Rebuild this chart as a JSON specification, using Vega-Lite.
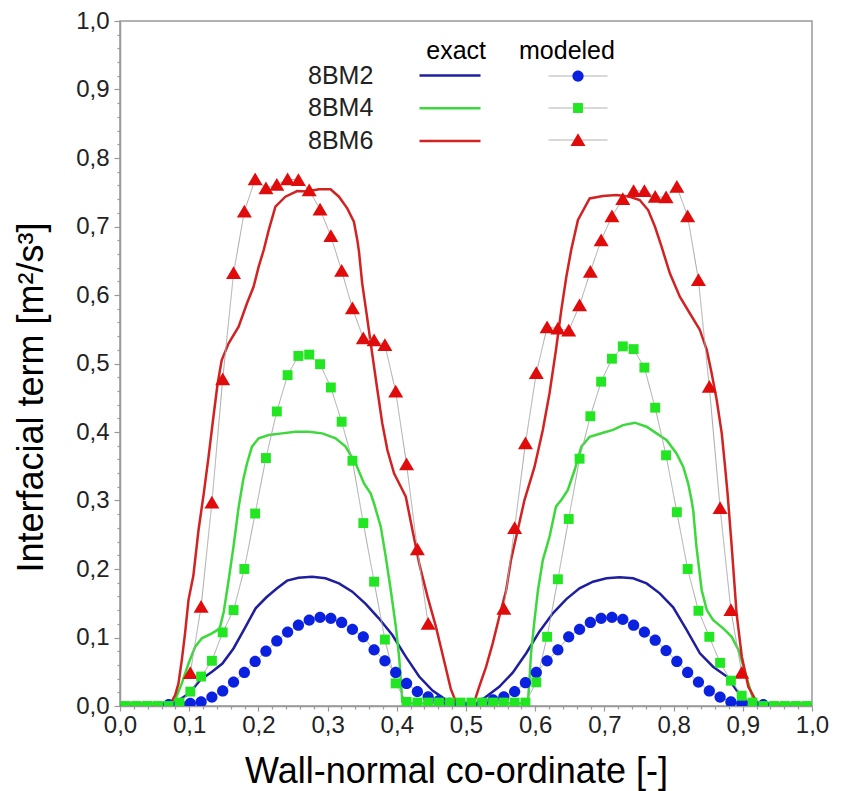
{
  "$schema": "https://vega.github.io/schema/vega-lite/v6.json",
  "width": 692,
  "height": 685,
  "autosize": "none",
  "padding": {"left": 120, "top": 21, "right": 31, "bottom": 85},
  "background": "white",
  "config": {
    "font": "Liberation Sans",
    "view": {"stroke": "#999999", "strokeWidth": 1.5},
    "locale": {"number": {"decimal": ",", "thousands": ".", "grouping": [3], "currency": ["", " €"]}},
    "axis": {"grid": false, "domainColor": "#999999", "domainWidth": 1.5, "tickColor": "#999999", "tickWidth": 1.2, "labelFont": "Liberation Sans", "labelFontSize": 24, "labelColor": "#222222", "titleFont": "Liberation Sans", "titleColor": "#000000", "titleFontWeight": "normal"},
    "legend": {"labelFont": "Liberation Sans", "titleFont": "Liberation Sans", "padding": 0}
  },
  "datasets": {
    "exact": [
      {"series": "8BM2", "x": 0.0, "y": 0.0},
      {"series": "8BM2", "x": 0.065, "y": 0.0},
      {"series": "8BM2", "x": 0.08, "y": 0.005},
      {"series": "8BM2", "x": 0.1, "y": 0.0185},
      {"series": "8BM2", "x": 0.116, "y": 0.038},
      {"series": "8BM2", "x": 0.133, "y": 0.05},
      {"series": "8BM2", "x": 0.148, "y": 0.062},
      {"series": "8BM2", "x": 0.164, "y": 0.084},
      {"series": "8BM2", "x": 0.18, "y": 0.113},
      {"series": "8BM2", "x": 0.196, "y": 0.1426},
      {"series": "8BM2", "x": 0.2116, "y": 0.1587},
      {"series": "8BM2", "x": 0.227, "y": 0.1718},
      {"series": "8BM2", "x": 0.2415, "y": 0.183},
      {"series": "8BM2", "x": 0.258, "y": 0.1873},
      {"series": "8BM2", "x": 0.2777, "y": 0.1888},
      {"series": "8BM2", "x": 0.297, "y": 0.1864},
      {"series": "8BM2", "x": 0.3164, "y": 0.179},
      {"series": "8BM2", "x": 0.3357, "y": 0.1669},
      {"series": "8BM2", "x": 0.355, "y": 0.149},
      {"series": "8BM2", "x": 0.374, "y": 0.128},
      {"series": "8BM2", "x": 0.3936, "y": 0.1036},
      {"series": "8BM2", "x": 0.413, "y": 0.072},
      {"series": "8BM2", "x": 0.4323, "y": 0.043},
      {"series": "8BM2", "x": 0.4516, "y": 0.0224},
      {"series": "8BM2", "x": 0.471, "y": 0.009},
      {"series": "8BM2", "x": 0.49, "y": 0.0015},
      {"series": "8BM2", "x": 0.5, "y": 0.0},
      {"series": "8BM2", "x": 0.51, "y": 0.001},
      {"series": "8BM2", "x": 0.519, "y": 0.006},
      {"series": "8BM2", "x": 0.529, "y": 0.0136},
      {"series": "8BM2", "x": 0.548, "y": 0.028},
      {"series": "8BM2", "x": 0.5675, "y": 0.0486},
      {"series": "8BM2", "x": 0.587, "y": 0.077},
      {"series": "8BM2", "x": 0.606, "y": 0.1085},
      {"series": "8BM2", "x": 0.6255, "y": 0.1353},
      {"series": "8BM2", "x": 0.645, "y": 0.156},
      {"series": "8BM2", "x": 0.664, "y": 0.1718},
      {"series": "8BM2", "x": 0.6835, "y": 0.1815},
      {"series": "8BM2", "x": 0.703, "y": 0.1864},
      {"series": "8BM2", "x": 0.722, "y": 0.1879},
      {"series": "8BM2", "x": 0.7415, "y": 0.1864},
      {"series": "8BM2", "x": 0.761, "y": 0.179},
      {"series": "8BM2", "x": 0.78, "y": 0.1645},
      {"series": "8BM2", "x": 0.7994, "y": 0.144},
      {"series": "8BM2", "x": 0.8188, "y": 0.111},
      {"series": "8BM2", "x": 0.838, "y": 0.077},
      {"series": "8BM2", "x": 0.857, "y": 0.0574},
      {"series": "8BM2", "x": 0.877, "y": 0.043},
      {"series": "8BM2", "x": 0.891, "y": 0.023},
      {"series": "8BM2", "x": 0.906, "y": 0.006},
      {"series": "8BM2", "x": 0.925, "y": 0.0},
      {"series": "8BM2", "x": 1.0, "y": 0.0},
      {"series": "8BM4", "x": 0.0, "y": 0.004},
      {"series": "8BM4", "x": 0.077, "y": 0.005},
      {"series": "8BM4", "x": 0.0797, "y": 0.009},
      {"series": "8BM4", "x": 0.0893, "y": 0.033},
      {"series": "8BM4", "x": 0.099, "y": 0.062},
      {"series": "8BM4", "x": 0.1087, "y": 0.0866},
      {"series": "8BM4", "x": 0.1183, "y": 0.0988},
      {"series": "8BM4", "x": 0.1328, "y": 0.106},
      {"series": "8BM4", "x": 0.144, "y": 0.113},
      {"series": "8BM4", "x": 0.15, "y": 0.138},
      {"series": "8BM4", "x": 0.157, "y": 0.184},
      {"series": "8BM4", "x": 0.164, "y": 0.2326},
      {"series": "8BM4", "x": 0.1714, "y": 0.29},
      {"series": "8BM4", "x": 0.178, "y": 0.33},
      {"series": "8BM4", "x": 0.1835, "y": 0.354},
      {"series": "8BM4", "x": 0.1907, "y": 0.3786},
      {"series": "8BM4", "x": 0.2004, "y": 0.3908},
      {"series": "8BM4", "x": 0.215, "y": 0.3956},
      {"series": "8BM4", "x": 0.234, "y": 0.398},
      {"series": "8BM4", "x": 0.2536, "y": 0.4004},
      {"series": "8BM4", "x": 0.273, "y": 0.4004},
      {"series": "8BM4", "x": 0.2922, "y": 0.398},
      {"series": "8BM4", "x": 0.3116, "y": 0.3908},
      {"series": "8BM4", "x": 0.326, "y": 0.3786},
      {"series": "8BM4", "x": 0.3406, "y": 0.354},
      {"series": "8BM4", "x": 0.3526, "y": 0.325},
      {"series": "8BM4", "x": 0.3623, "y": 0.31},
      {"series": "8BM4", "x": 0.367, "y": 0.296},
      {"series": "8BM4", "x": 0.3768, "y": 0.2618},
      {"series": "8BM4", "x": 0.384, "y": 0.218},
      {"series": "8BM4", "x": 0.3913, "y": 0.169},
      {"series": "8BM4", "x": 0.3986, "y": 0.1158},
      {"series": "8BM4", "x": 0.4033, "y": 0.072},
      {"series": "8BM4", "x": 0.4058, "y": 0.038},
      {"series": "8BM4", "x": 0.408, "y": 0.006},
      {"series": "8BM4", "x": 0.412, "y": 0.004},
      {"series": "8BM4", "x": 0.588, "y": 0.004},
      {"series": "8BM4", "x": 0.5895, "y": 0.006},
      {"series": "8BM4", "x": 0.5917, "y": 0.038},
      {"series": "8BM4", "x": 0.594, "y": 0.077},
      {"series": "8BM4", "x": 0.599, "y": 0.1255},
      {"series": "8BM4", "x": 0.604, "y": 0.169},
      {"series": "8BM4", "x": 0.611, "y": 0.213},
      {"series": "8BM4", "x": 0.6207, "y": 0.247},
      {"series": "8BM4", "x": 0.63, "y": 0.291},
      {"series": "8BM4", "x": 0.6377, "y": 0.3007},
      {"series": "8BM4", "x": 0.647, "y": 0.315},
      {"series": "8BM4", "x": 0.657, "y": 0.3445},
      {"series": "8BM4", "x": 0.6667, "y": 0.3786},
      {"series": "8BM4", "x": 0.6787, "y": 0.393},
      {"series": "8BM4", "x": 0.698, "y": 0.399},
      {"series": "8BM4", "x": 0.7125, "y": 0.403},
      {"series": "8BM4", "x": 0.727, "y": 0.41},
      {"series": "8BM4", "x": 0.744, "y": 0.4136},
      {"series": "8BM4", "x": 0.761, "y": 0.4077},
      {"series": "8BM4", "x": 0.7754, "y": 0.398},
      {"series": "8BM4", "x": 0.79, "y": 0.388},
      {"series": "8BM4", "x": 0.804, "y": 0.369},
      {"series": "8BM4", "x": 0.814, "y": 0.349},
      {"series": "8BM4", "x": 0.821, "y": 0.325},
      {"series": "8BM4", "x": 0.826, "y": 0.3},
      {"series": "8BM4", "x": 0.8284, "y": 0.285},
      {"series": "8BM4", "x": 0.833, "y": 0.2326},
      {"series": "8BM4", "x": 0.8406, "y": 0.169},
      {"series": "8BM4", "x": 0.848, "y": 0.14},
      {"series": "8BM4", "x": 0.857, "y": 0.1255},
      {"series": "8BM4", "x": 0.872, "y": 0.113},
      {"series": "8BM4", "x": 0.884, "y": 0.101},
      {"series": "8BM4", "x": 0.8937, "y": 0.082},
      {"series": "8BM4", "x": 0.901, "y": 0.0574},
      {"series": "8BM4", "x": 0.908, "y": 0.033},
      {"series": "8BM4", "x": 0.9154, "y": 0.009},
      {"series": "8BM4", "x": 0.92, "y": 0.004},
      {"series": "8BM4", "x": 1.0, "y": 0.004},
      {"series": "8BM6", "x": 0.0, "y": 0.0},
      {"series": "8BM6", "x": 0.066, "y": 0.0},
      {"series": "8BM6", "x": 0.0745, "y": 0.006},
      {"series": "8BM6", "x": 0.0797, "y": 0.016},
      {"series": "8BM6", "x": 0.0845, "y": 0.033},
      {"series": "8BM6", "x": 0.0893, "y": 0.067},
      {"series": "8BM6", "x": 0.094, "y": 0.106},
      {"series": "8BM6", "x": 0.099, "y": 0.155},
      {"series": "8BM6", "x": 0.106, "y": 0.19},
      {"series": "8BM6", "x": 0.1135, "y": 0.257},
      {"series": "8BM6", "x": 0.121, "y": 0.31},
      {"series": "8BM6", "x": 0.128, "y": 0.364},
      {"series": "8BM6", "x": 0.135, "y": 0.4223},
      {"series": "8BM6", "x": 0.141, "y": 0.47},
      {"series": "8BM6", "x": 0.147, "y": 0.505},
      {"series": "8BM6", "x": 0.157, "y": 0.5295},
      {"series": "8BM6", "x": 0.1714, "y": 0.5537},
      {"series": "8BM6", "x": 0.1835, "y": 0.588},
      {"series": "8BM6", "x": 0.193, "y": 0.612},
      {"series": "8BM6", "x": 0.2004, "y": 0.6413},
      {"series": "8BM6", "x": 0.2077, "y": 0.6657},
      {"series": "8BM6", "x": 0.215, "y": 0.695},
      {"series": "8BM6", "x": 0.2246, "y": 0.729},
      {"series": "8BM6", "x": 0.239, "y": 0.7435},
      {"series": "8BM6", "x": 0.256, "y": 0.7518},
      {"series": "8BM6", "x": 0.2705, "y": 0.751},
      {"series": "8BM6", "x": 0.2874, "y": 0.7543},
      {"series": "8BM6", "x": 0.3043, "y": 0.7543},
      {"series": "8BM6", "x": 0.3164, "y": 0.7435},
      {"series": "8BM6", "x": 0.3284, "y": 0.7265},
      {"series": "8BM6", "x": 0.338, "y": 0.707},
      {"series": "8BM6", "x": 0.343, "y": 0.68},
      {"series": "8BM6", "x": 0.3454, "y": 0.663},
      {"series": "8BM6", "x": 0.35, "y": 0.617},
      {"series": "8BM6", "x": 0.357, "y": 0.568},
      {"series": "8BM6", "x": 0.3623, "y": 0.5295},
      {"series": "8BM6", "x": 0.372, "y": 0.461},
      {"series": "8BM6", "x": 0.379, "y": 0.4127},
      {"series": "8BM6", "x": 0.3864, "y": 0.3737},
      {"series": "8BM6", "x": 0.396, "y": 0.3397},
      {"series": "8BM6", "x": 0.4058, "y": 0.32},
      {"series": "8BM6", "x": 0.413, "y": 0.3056},
      {"series": "8BM6", "x": 0.4226, "y": 0.257},
      {"series": "8BM6", "x": 0.4323, "y": 0.2083},
      {"series": "8BM6", "x": 0.4444, "y": 0.1596},
      {"series": "8BM6", "x": 0.4565, "y": 0.1158},
      {"series": "8BM6", "x": 0.4686, "y": 0.065},
      {"series": "8BM6", "x": 0.478, "y": 0.025},
      {"series": "8BM6", "x": 0.487, "y": 0.002},
      {"series": "8BM6", "x": 0.508, "y": 0.002},
      {"series": "8BM6", "x": 0.512, "y": 0.006},
      {"series": "8BM6", "x": 0.519, "y": 0.028},
      {"series": "8BM6", "x": 0.529, "y": 0.057},
      {"series": "8BM6", "x": 0.5386, "y": 0.0915},
      {"series": "8BM6", "x": 0.548, "y": 0.13},
      {"series": "8BM6", "x": 0.558, "y": 0.169},
      {"series": "8BM6", "x": 0.565, "y": 0.213},
      {"series": "8BM6", "x": 0.575, "y": 0.258},
      {"series": "8BM6", "x": 0.5845, "y": 0.3007},
      {"series": "8BM6", "x": 0.599, "y": 0.349},
      {"series": "8BM6", "x": 0.611, "y": 0.403},
      {"series": "8BM6", "x": 0.6207, "y": 0.4565},
      {"series": "8BM6", "x": 0.63, "y": 0.5197},
      {"series": "8BM6", "x": 0.6377, "y": 0.578},
      {"series": "8BM6", "x": 0.645, "y": 0.6267},
      {"series": "8BM6", "x": 0.652, "y": 0.6657},
      {"series": "8BM6", "x": 0.6618, "y": 0.7095},
      {"series": "8BM6", "x": 0.6787, "y": 0.741},
      {"series": "8BM6", "x": 0.698, "y": 0.7445},
      {"series": "8BM6", "x": 0.7174, "y": 0.746},
      {"series": "8BM6", "x": 0.7367, "y": 0.7435},
      {"series": "8BM6", "x": 0.751, "y": 0.7387},
      {"series": "8BM6", "x": 0.7632, "y": 0.724},
      {"series": "8BM6", "x": 0.773, "y": 0.7},
      {"series": "8BM6", "x": 0.7826, "y": 0.6705},
      {"series": "8BM6", "x": 0.7946, "y": 0.6317},
      {"series": "8BM6", "x": 0.809, "y": 0.5975},
      {"series": "8BM6", "x": 0.8236, "y": 0.573},
      {"series": "8BM6", "x": 0.838, "y": 0.549},
      {"series": "8BM6", "x": 0.848, "y": 0.5197},
      {"series": "8BM6", "x": 0.855, "y": 0.4857},
      {"series": "8BM6", "x": 0.8623, "y": 0.4467},
      {"series": "8BM6", "x": 0.8696, "y": 0.398},
      {"series": "8BM6", "x": 0.8744, "y": 0.349},
      {"series": "8BM6", "x": 0.878, "y": 0.31},
      {"series": "8BM6", "x": 0.884, "y": 0.2326},
      {"series": "8BM6", "x": 0.891, "y": 0.1353},
      {"series": "8BM6", "x": 0.8986, "y": 0.072},
      {"series": "8BM6", "x": 0.908, "y": 0.028},
      {"series": "8BM6", "x": 0.92, "y": 0.006},
      {"series": "8BM6", "x": 0.93, "y": 0.0},
      {"series": "8BM6", "x": 1.0, "y": 0.0}
    ],
    "modeled": [
      {"series": "8BM2", "branch": "a", "x": 0.0703, "y": 0.002},
      {"series": "8BM2", "branch": "a", "x": 0.0859, "y": 0.003},
      {"series": "8BM2", "branch": "a", "x": 0.1016, "y": 0.004},
      {"series": "8BM2", "branch": "a", "x": 0.1172, "y": 0.006},
      {"series": "8BM2", "branch": "a", "x": 0.1328, "y": 0.013},
      {"series": "8BM2", "branch": "a", "x": 0.1484, "y": 0.022},
      {"series": "8BM2", "branch": "a", "x": 0.1641, "y": 0.035},
      {"series": "8BM2", "branch": "a", "x": 0.1797, "y": 0.049},
      {"series": "8BM2", "branch": "a", "x": 0.1953, "y": 0.065},
      {"series": "8BM2", "branch": "a", "x": 0.2109, "y": 0.08},
      {"series": "8BM2", "branch": "a", "x": 0.2266, "y": 0.095},
      {"series": "8BM2", "branch": "a", "x": 0.2422, "y": 0.108},
      {"series": "8BM2", "branch": "a", "x": 0.2578, "y": 0.118},
      {"series": "8BM2", "branch": "a", "x": 0.2734, "y": 0.1255},
      {"series": "8BM2", "branch": "a", "x": 0.2891, "y": 0.1295},
      {"series": "8BM2", "branch": "a", "x": 0.3047, "y": 0.128},
      {"series": "8BM2", "branch": "a", "x": 0.3203, "y": 0.122},
      {"series": "8BM2", "branch": "a", "x": 0.3359, "y": 0.112},
      {"series": "8BM2", "branch": "a", "x": 0.3516, "y": 0.101},
      {"series": "8BM2", "branch": "a", "x": 0.3672, "y": 0.082},
      {"series": "8BM2", "branch": "a", "x": 0.3828, "y": 0.066},
      {"series": "8BM2", "branch": "a", "x": 0.3984, "y": 0.049},
      {"series": "8BM2", "branch": "a", "x": 0.4141, "y": 0.033},
      {"series": "8BM2", "branch": "a", "x": 0.4297, "y": 0.021},
      {"series": "8BM2", "branch": "a", "x": 0.4453, "y": 0.0135},
      {"series": "8BM2", "branch": "a", "x": 0.4609, "y": 0.008},
      {"series": "8BM2", "branch": "a", "x": 0.4766, "y": 0.004},
      {"series": "8BM2", "branch": "a", "x": 0.4922, "y": 0.002},
      {"series": "8BM2", "branch": "a", "x": 0.5078, "y": 0.002},
      {"series": "8BM2", "branch": "a", "x": 0.5234, "y": 0.004},
      {"series": "8BM2", "branch": "a", "x": 0.5391, "y": 0.009},
      {"series": "8BM2", "branch": "a", "x": 0.5547, "y": 0.0135},
      {"series": "8BM2", "branch": "a", "x": 0.5703, "y": 0.021},
      {"series": "8BM2", "branch": "a", "x": 0.5859, "y": 0.034},
      {"series": "8BM2", "branch": "a", "x": 0.6016, "y": 0.049},
      {"series": "8BM2", "branch": "a", "x": 0.6172, "y": 0.066},
      {"series": "8BM2", "branch": "a", "x": 0.6328, "y": 0.082},
      {"series": "8BM2", "branch": "a", "x": 0.6484, "y": 0.101},
      {"series": "8BM2", "branch": "a", "x": 0.6641, "y": 0.112},
      {"series": "8BM2", "branch": "a", "x": 0.6797, "y": 0.122},
      {"series": "8BM2", "branch": "a", "x": 0.6953, "y": 0.128},
      {"series": "8BM2", "branch": "a", "x": 0.7109, "y": 0.1295},
      {"series": "8BM2", "branch": "a", "x": 0.7266, "y": 0.1265},
      {"series": "8BM2", "branch": "a", "x": 0.7422, "y": 0.118},
      {"series": "8BM2", "branch": "a", "x": 0.7578, "y": 0.108},
      {"series": "8BM2", "branch": "a", "x": 0.7734, "y": 0.096},
      {"series": "8BM2", "branch": "a", "x": 0.7891, "y": 0.081},
      {"series": "8BM2", "branch": "a", "x": 0.8047, "y": 0.065},
      {"series": "8BM2", "branch": "a", "x": 0.8203, "y": 0.049},
      {"series": "8BM2", "branch": "a", "x": 0.8359, "y": 0.035},
      {"series": "8BM2", "branch": "a", "x": 0.8516, "y": 0.022},
      {"series": "8BM2", "branch": "a", "x": 0.8672, "y": 0.013},
      {"series": "8BM2", "branch": "a", "x": 0.8828, "y": 0.006},
      {"series": "8BM2", "branch": "a", "x": 0.8984, "y": 0.004},
      {"series": "8BM2", "branch": "a", "x": 0.9141, "y": 0.003},
      {"series": "8BM2", "branch": "a", "x": 0.9297, "y": 0.002},
      {"series": "8BM6", "branch": "a", "x": 0.1016, "y": 0.048},
      {"series": "8BM6", "branch": "a", "x": 0.1172, "y": 0.145},
      {"series": "8BM6", "branch": "a", "x": 0.1328, "y": 0.297},
      {"series": "8BM6", "branch": "a", "x": 0.1484, "y": 0.477},
      {"series": "8BM6", "branch": "a", "x": 0.1641, "y": 0.632},
      {"series": "8BM6", "branch": "a", "x": 0.1797, "y": 0.722},
      {"series": "8BM6", "branch": "a", "x": 0.1953, "y": 0.769},
      {"series": "8BM6", "branch": "a", "x": 0.2109, "y": 0.756},
      {"series": "8BM6", "branch": "a", "x": 0.2266, "y": 0.761},
      {"series": "8BM6", "branch": "a", "x": 0.2422, "y": 0.769},
      {"series": "8BM6", "branch": "a", "x": 0.2578, "y": 0.768},
      {"series": "8BM6", "branch": "a", "x": 0.2734, "y": 0.753},
      {"series": "8BM6", "branch": "a", "x": 0.2891, "y": 0.725},
      {"series": "8BM6", "branch": "a", "x": 0.3047, "y": 0.686},
      {"series": "8BM6", "branch": "a", "x": 0.3203, "y": 0.6355},
      {"series": "8BM6", "branch": "a", "x": 0.3359, "y": 0.5805},
      {"series": "8BM6", "branch": "a", "x": 0.3516, "y": 0.537},
      {"series": "8BM6", "branch": "a", "x": 0.3672, "y": 0.534},
      {"series": "8BM6", "branch": "a", "x": 0.3828, "y": 0.527},
      {"series": "8BM6", "branch": "a", "x": 0.3984, "y": 0.459},
      {"series": "8BM6", "branch": "a", "x": 0.4141, "y": 0.353},
      {"series": "8BM6", "branch": "a", "x": 0.4297, "y": 0.229},
      {"series": "8BM6", "branch": "a", "x": 0.4453, "y": 0.12},
      {"series": "8BM6", "branch": "b", "x": 0.5547, "y": 0.142},
      {"series": "8BM6", "branch": "b", "x": 0.5703, "y": 0.26},
      {"series": "8BM6", "branch": "b", "x": 0.5859, "y": 0.3835},
      {"series": "8BM6", "branch": "b", "x": 0.6016, "y": 0.486},
      {"series": "8BM6", "branch": "b", "x": 0.6172, "y": 0.553},
      {"series": "8BM6", "branch": "b", "x": 0.6328, "y": 0.551},
      {"series": "8BM6", "branch": "b", "x": 0.6484, "y": 0.548},
      {"series": "8BM6", "branch": "b", "x": 0.6641, "y": 0.585},
      {"series": "8BM6", "branch": "b", "x": 0.6797, "y": 0.634},
      {"series": "8BM6", "branch": "b", "x": 0.6953, "y": 0.68},
      {"series": "8BM6", "branch": "b", "x": 0.7109, "y": 0.715},
      {"series": "8BM6", "branch": "b", "x": 0.7266, "y": 0.74},
      {"series": "8BM6", "branch": "b", "x": 0.7422, "y": 0.752},
      {"series": "8BM6", "branch": "b", "x": 0.7578, "y": 0.752},
      {"series": "8BM6", "branch": "b", "x": 0.7734, "y": 0.7435},
      {"series": "8BM6", "branch": "b", "x": 0.7891, "y": 0.7426},
      {"series": "8BM6", "branch": "b", "x": 0.8047, "y": 0.758},
      {"series": "8BM6", "branch": "b", "x": 0.8203, "y": 0.715},
      {"series": "8BM6", "branch": "b", "x": 0.8359, "y": 0.622},
      {"series": "8BM6", "branch": "b", "x": 0.8516, "y": 0.466},
      {"series": "8BM6", "branch": "b", "x": 0.8672, "y": 0.289},
      {"series": "8BM6", "branch": "b", "x": 0.8828, "y": 0.14},
      {"series": "8BM6", "branch": "b", "x": 0.8984, "y": 0.0486},
      {"series": "8BM4", "branch": "a", "x": 0.0078, "y": 0.0},
      {"series": "8BM4", "branch": "a", "x": 0.0234, "y": 0.0},
      {"series": "8BM4", "branch": "a", "x": 0.0391, "y": 0.0},
      {"series": "8BM4", "branch": "a", "x": 0.0547, "y": 0.0},
      {"series": "8BM4", "branch": "a", "x": 0.0703, "y": 0.0},
      {"series": "8BM4", "branch": "a", "x": 0.0859, "y": 0.005},
      {"series": "8BM4", "branch": "a", "x": 0.1016, "y": 0.021},
      {"series": "8BM4", "branch": "a", "x": 0.1172, "y": 0.043},
      {"series": "8BM4", "branch": "a", "x": 0.1328, "y": 0.066},
      {"series": "8BM4", "branch": "a", "x": 0.1484, "y": 0.1075},
      {"series": "8BM4", "branch": "a", "x": 0.1641, "y": 0.14},
      {"series": "8BM4", "branch": "a", "x": 0.1797, "y": 0.2},
      {"series": "8BM4", "branch": "a", "x": 0.1953, "y": 0.281},
      {"series": "8BM4", "branch": "a", "x": 0.2109, "y": 0.362},
      {"series": "8BM4", "branch": "a", "x": 0.2266, "y": 0.43},
      {"series": "8BM4", "branch": "a", "x": 0.2422, "y": 0.483},
      {"series": "8BM4", "branch": "a", "x": 0.2578, "y": 0.511},
      {"series": "8BM4", "branch": "a", "x": 0.2734, "y": 0.513},
      {"series": "8BM4", "branch": "a", "x": 0.2891, "y": 0.499},
      {"series": "8BM4", "branch": "a", "x": 0.3047, "y": 0.465},
      {"series": "8BM4", "branch": "a", "x": 0.3203, "y": 0.415},
      {"series": "8BM4", "branch": "a", "x": 0.3359, "y": 0.358},
      {"series": "8BM4", "branch": "a", "x": 0.3516, "y": 0.267},
      {"series": "8BM4", "branch": "a", "x": 0.3672, "y": 0.1815},
      {"series": "8BM4", "branch": "a", "x": 0.3828, "y": 0.097},
      {"series": "8BM4", "branch": "a", "x": 0.3984, "y": 0.033},
      {"series": "8BM4", "branch": "a", "x": 0.4141, "y": 0.006},
      {"series": "8BM4", "branch": "a", "x": 0.4297, "y": 0.005},
      {"series": "8BM4", "branch": "a", "x": 0.4453, "y": 0.005},
      {"series": "8BM4", "branch": "a", "x": 0.4609, "y": 0.005},
      {"series": "8BM4", "branch": "a", "x": 0.4766, "y": 0.005},
      {"series": "8BM4", "branch": "a", "x": 0.4922, "y": 0.005},
      {"series": "8BM4", "branch": "a", "x": 0.5078, "y": 0.005},
      {"series": "8BM4", "branch": "a", "x": 0.5234, "y": 0.005},
      {"series": "8BM4", "branch": "a", "x": 0.5391, "y": 0.005},
      {"series": "8BM4", "branch": "a", "x": 0.5547, "y": 0.005},
      {"series": "8BM4", "branch": "a", "x": 0.5703, "y": 0.005},
      {"series": "8BM4", "branch": "a", "x": 0.5859, "y": 0.005},
      {"series": "8BM4", "branch": "a", "x": 0.6016, "y": 0.0346},
      {"series": "8BM4", "branch": "a", "x": 0.6172, "y": 0.101},
      {"series": "8BM4", "branch": "a", "x": 0.6328, "y": 0.185},
      {"series": "8BM4", "branch": "a", "x": 0.6484, "y": 0.273},
      {"series": "8BM4", "branch": "a", "x": 0.6641, "y": 0.361},
      {"series": "8BM4", "branch": "a", "x": 0.6797, "y": 0.423},
      {"series": "8BM4", "branch": "a", "x": 0.6953, "y": 0.4735},
      {"series": "8BM4", "branch": "a", "x": 0.7109, "y": 0.507},
      {"series": "8BM4", "branch": "a", "x": 0.7266, "y": 0.525},
      {"series": "8BM4", "branch": "a", "x": 0.7422, "y": 0.521},
      {"series": "8BM4", "branch": "a", "x": 0.7578, "y": 0.494},
      {"series": "8BM4", "branch": "a", "x": 0.7734, "y": 0.4355},
      {"series": "8BM4", "branch": "a", "x": 0.7891, "y": 0.366},
      {"series": "8BM4", "branch": "a", "x": 0.8047, "y": 0.283},
      {"series": "8BM4", "branch": "a", "x": 0.8203, "y": 0.2},
      {"series": "8BM4", "branch": "a", "x": 0.8359, "y": 0.139},
      {"series": "8BM4", "branch": "a", "x": 0.8516, "y": 0.101},
      {"series": "8BM4", "branch": "a", "x": 0.8672, "y": 0.063},
      {"series": "8BM4", "branch": "a", "x": 0.8828, "y": 0.037},
      {"series": "8BM4", "branch": "a", "x": 0.8984, "y": 0.015},
      {"series": "8BM4", "branch": "a", "x": 0.9141, "y": 0.005},
      {"series": "8BM4", "branch": "a", "x": 0.9297, "y": 0.0},
      {"series": "8BM4", "branch": "a", "x": 0.9453, "y": 0.0},
      {"series": "8BM4", "branch": "a", "x": 0.9609, "y": 0.0},
      {"series": "8BM4", "branch": "a", "x": 0.9766, "y": 0.0},
      {"series": "8BM4", "branch": "a", "x": 0.9922, "y": 0.0}
    ]
  },
  "layer": [
    {
      "data": {"name": "exact"},
      "mark": {"type": "line", "strokeWidth": 2.5, "clip": true},
      "encoding": {
        "x": {"field": "x", "type": "quantitative", "scale": {"domain": [0, 1], "nice": false, "zero": false},
          "axis": {"orient": "bottom", "values": [0, 0.1, 0.2, 0.3, 0.4, 0.5, 0.6, 0.7, 0.8, 0.9, 1.0], "format": ".1f", "tickSize": 5, "labelPadding": 2, "labelFlush": false, "labelOverlap": false,
            "title": "Wall-normal co-ordinate [-]", "titleFontSize": 36, "titleBaseline": "alphabetic", "titleAlign": "center", "titleX": 336, "titleY": 76}},
        "y": {"field": "y", "type": "quantitative", "scale": {"domain": [0, 1], "nice": false, "zero": false},
          "axis": {"orient": "left", "values": [0, 0.1, 0.2, 0.3, 0.4, 0.5, 0.6, 0.7, 0.8, 0.9, 1.0], "format": ".1f", "tickSize": 6, "labelPadding": 5, "labelFlush": false, "labelOverlap": false,
            "title": "Interfacial term  [m²/s³]", "titleFontSize": 36, "titleAngle": 270, "titleBaseline": "alphabetic", "titleAlign": "center", "titleX": -78, "titleY": 376}},
        "stroke": {"field": "series", "type": "nominal", "scale": {"range": ["#1e1e9e", "#3cd83c", "#d22222"]},
          "legend": {"title": "exact", "orient": "none", "legendX": 189, "legendY": 18, "symbolType": "M-2.44,0L2.44,0", "symbolSize": 625, "symbolStrokeWidth": 2.5,
            "labelFontSize": 25, "labelColor": "#222222", "labelAlign": "left", "labelOffset": -156, "symbolOffset": 127,
            "titleFontSize": 25, "titleFontWeight": "normal", "titleColor": "#000000", "titleAnchor": "end", "titlePadding": -2.5, "rowPadding": 5.7, "padding": 0}}
      }
    },
    {
      "data": {"name": "modeled"},
      "mark": {"type": "line", "stroke": "#a8a8a8", "strokeWidth": 1, "clip": true},
      "encoding": {
        "x": {"field": "x", "type": "quantitative", "axis": {"orient": "bottom", "values": [0.02, 0.04, 0.06, 0.08, 0.12, 0.14, 0.16, 0.18, 0.22, 0.24, 0.26, 0.28, 0.32, 0.34, 0.36, 0.38, 0.42, 0.44, 0.46, 0.48, 0.52, 0.54, 0.56, 0.58, 0.62, 0.64, 0.66, 0.68, 0.72, 0.74, 0.76, 0.78, 0.82, 0.84, 0.86, 0.88, 0.92, 0.94, 0.96, 0.98], "tickSize": 3, "labels": false, "domain": false, "title": null}},
        "y": {"field": "y", "type": "quantitative", "axis": {"orient": "left", "values": [0.02, 0.04, 0.06, 0.08, 0.12, 0.14, 0.16, 0.18, 0.22, 0.24, 0.26, 0.28, 0.32, 0.34, 0.36, 0.38, 0.42, 0.44, 0.46, 0.48, 0.52, 0.54, 0.56, 0.58, 0.62, 0.64, 0.66, 0.68, 0.72, 0.74, 0.76, 0.78, 0.82, 0.84, 0.86, 0.88, 0.92, 0.94, 0.96, 0.98], "tickSize": 3, "labels": false, "domain": false, "title": null}},
        "detail": {"field": "branch", "type": "nominal"},
        "strokeDash": {"field": "series", "type": "nominal", "scale": {"domain": ["8BM2", "8BM4", "8BM6"], "range": [[1, 0], [1, 0], [1, 0]]},
          "legend": {"title": null, "orient": "none", "legendX": 428, "legendY": 43, "symbolType": "stroke", "symbolSize": 3481, "symbolStrokeColor": "#a8a8a8", "symbolStrokeWidth": 1,
            "labelExpr": "''", "labelFontSize": 24, "rowPadding": 8, "clipHeight": 24, "padding": 0}}
      }
    },
    {
      "data": {"name": "modeled"},
      "mark": {"type": "point", "filled": true, "opacity": 1, "size": 225, "clip": true},
      "encoding": {
        "x": {"field": "x", "type": "quantitative", "axis": null},
        "y": {"field": "y", "type": "quantitative", "axis": null},
        "shape": {"field": "series", "type": "nominal",
          "scale": {"range": ["M-0.75,0A0.75,0.75 0 1,0 0.75,0A0.75,0.75 0 1,0 -0.75,0Z", "M-0.66,-0.66L0.66,-0.66L0.66,0.66L-0.66,0.66Z", "M0,-0.9L1,0.8L-1,0.8Z"]},
          "legend": {"title": "modeled", "orient": "none", "legendX": 399, "legendY": 18, "symbolSize": 225, "symbolOffset": 47, "symbolStrokeWidth": 0,
            "labelExpr": "''", "labelFontSize": 24, "titleFontSize": 25, "titleFontWeight": "normal", "titleColor": "#000000", "titlePadding": 0, "rowPadding": 8, "clipHeight": 24, "padding": 0}},
        "fill": {"field": "series", "type": "nominal", "scale": {"range": ["#0a22e0", "#22e622", "#e00c0c"]},
          "legend": {"title": "modeled", "orient": "none", "legendX": 399, "legendY": 18, "symbolSize": 225, "symbolOffset": 47, "symbolStrokeWidth": 0,
            "labelExpr": "''", "labelFontSize": 24, "titleFontSize": 25, "titleFontWeight": "normal", "titleColor": "#000000", "titlePadding": 0, "rowPadding": 8, "clipHeight": 24, "padding": 0}}
      }
    }
  ],
  "resolve": {"axis": {"x": "independent", "y": "independent"}}
}
